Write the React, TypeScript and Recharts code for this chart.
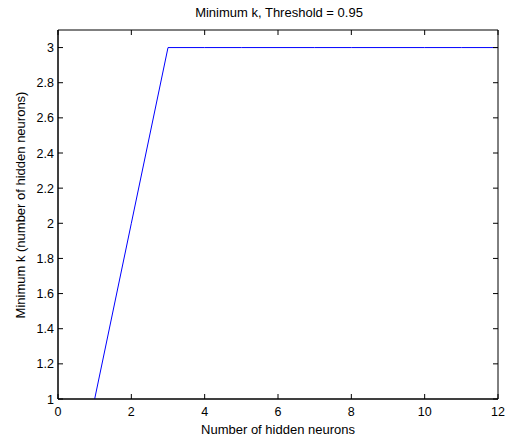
import { LineChart, Line, XAxis, YAxis, ReferenceArea } from 'recharts'

const neurons = [1, 2, 3, 4, 5, 6, 7, 8, 9, 10, 11, 12]
const minK = [1, 2, 3, 3, 3, 3, 3, 3, 3, 3, 3, 3]
const xTicks = [0, 2, 4, 6, 8, 10, 12]
const yTicks = [1, 1.2, 1.4, 1.6, 1.8, 2, 2.2, 2.4, 2.6, 2.8, 3]

const data = neurons.map((n, i) => ({ n, k: minK[i] }))

// plot box in pixels (used only for the inner tick marks)
const LEFT = 58
const RIGHT = 498
const TOP = 30
const BOTTOM = 399
const TICK = 5
const FONT = '"Liberation Sans", Arial, Helvetica, sans-serif'

function XTick(props: any) {
  const { x, y, payload } = props
  return (
    <g>
      <line x1={x} x2={x} y1={BOTTOM} y2={BOTTOM - TICK} stroke="#000" />
      <line x1={x} x2={x} y1={TOP} y2={TOP + TICK} stroke="#000" />
      <text x={x} y={y + 16} textAnchor="middle" fontSize={12.5} fontFamily={FONT} fill="#000">
        {payload.value}
      </text>
    </g>
  )
}

function YTick(props: any) {
  const { x, y, payload } = props
  return (
    <g>
      <line x1={LEFT} x2={LEFT + TICK} y1={y} y2={y} stroke="#000" />
      <line x1={RIGHT - TICK} x2={RIGHT} y1={y} y2={y} stroke="#000" />
      <text x={x} y={y + 4.5} textAnchor="end" fontSize={12.5} fontFamily={FONT} fill="#000">
        {payload.value}
      </text>
    </g>
  )
}

export default function App() {
  return (
    <div style={{ position: 'absolute', left: 0, top: 0, width: 512, height: 441, background: '#fff' }}>
      <LineChart
        width={512}
        height={441}
        data={data}
        margin={{ top: TOP, right: 512 - RIGHT, bottom: 0, left: 0 }}
      >
        <text x={279} y={17} textAnchor="middle" fontSize={13} fontFamily={FONT} fill="#000">
          Minimum k, Threshold = 0.95
        </text>
        <text
          x={25}
          y={205}
          transform="rotate(-90 25 205)"
          textAnchor="middle"
          fontSize={13}
          fontFamily={FONT}
          fill="#000"
        >
          Minimum k (number of hidden neurons)
        </text>
        <XAxis
          dataKey="n"
          type="number"
          domain={[0, 12]}
          ticks={xTicks}
          interval={0}
          height={441 - BOTTOM}
          tick={<XTick />}
          tickLine={false}
          tickSize={0}
          tickMargin={1}
          axisLine={{ stroke: '#000' }}
          label={{ value: 'Number of hidden neurons', position: 'insideBottom', offset: 7, fontSize: 13, fontFamily: FONT, fill: '#000' }}
        />
        <YAxis
          type="number"
          domain={[1, 3.1]}
          ticks={yTicks}
          interval={0}
          width={LEFT}
          tick={<YTick />}
          tickLine={false}
          tickSize={0}
          tickMargin={4}
          axisLine={{ stroke: '#000' }}
          allowDataOverflow
        />
        <ReferenceArea x1={0} x2={12} y1={1} y2={3.1} fill="none" stroke="#000" strokeWidth={1} ifOverflow="extendDomain" />
        <Line
          dataKey="k"
          type="linear"
          stroke="#0000ff"
          strokeWidth={1}
          dot={false}
          isAnimationActive={false}
        />
      </LineChart>
    </div>
  )
}
